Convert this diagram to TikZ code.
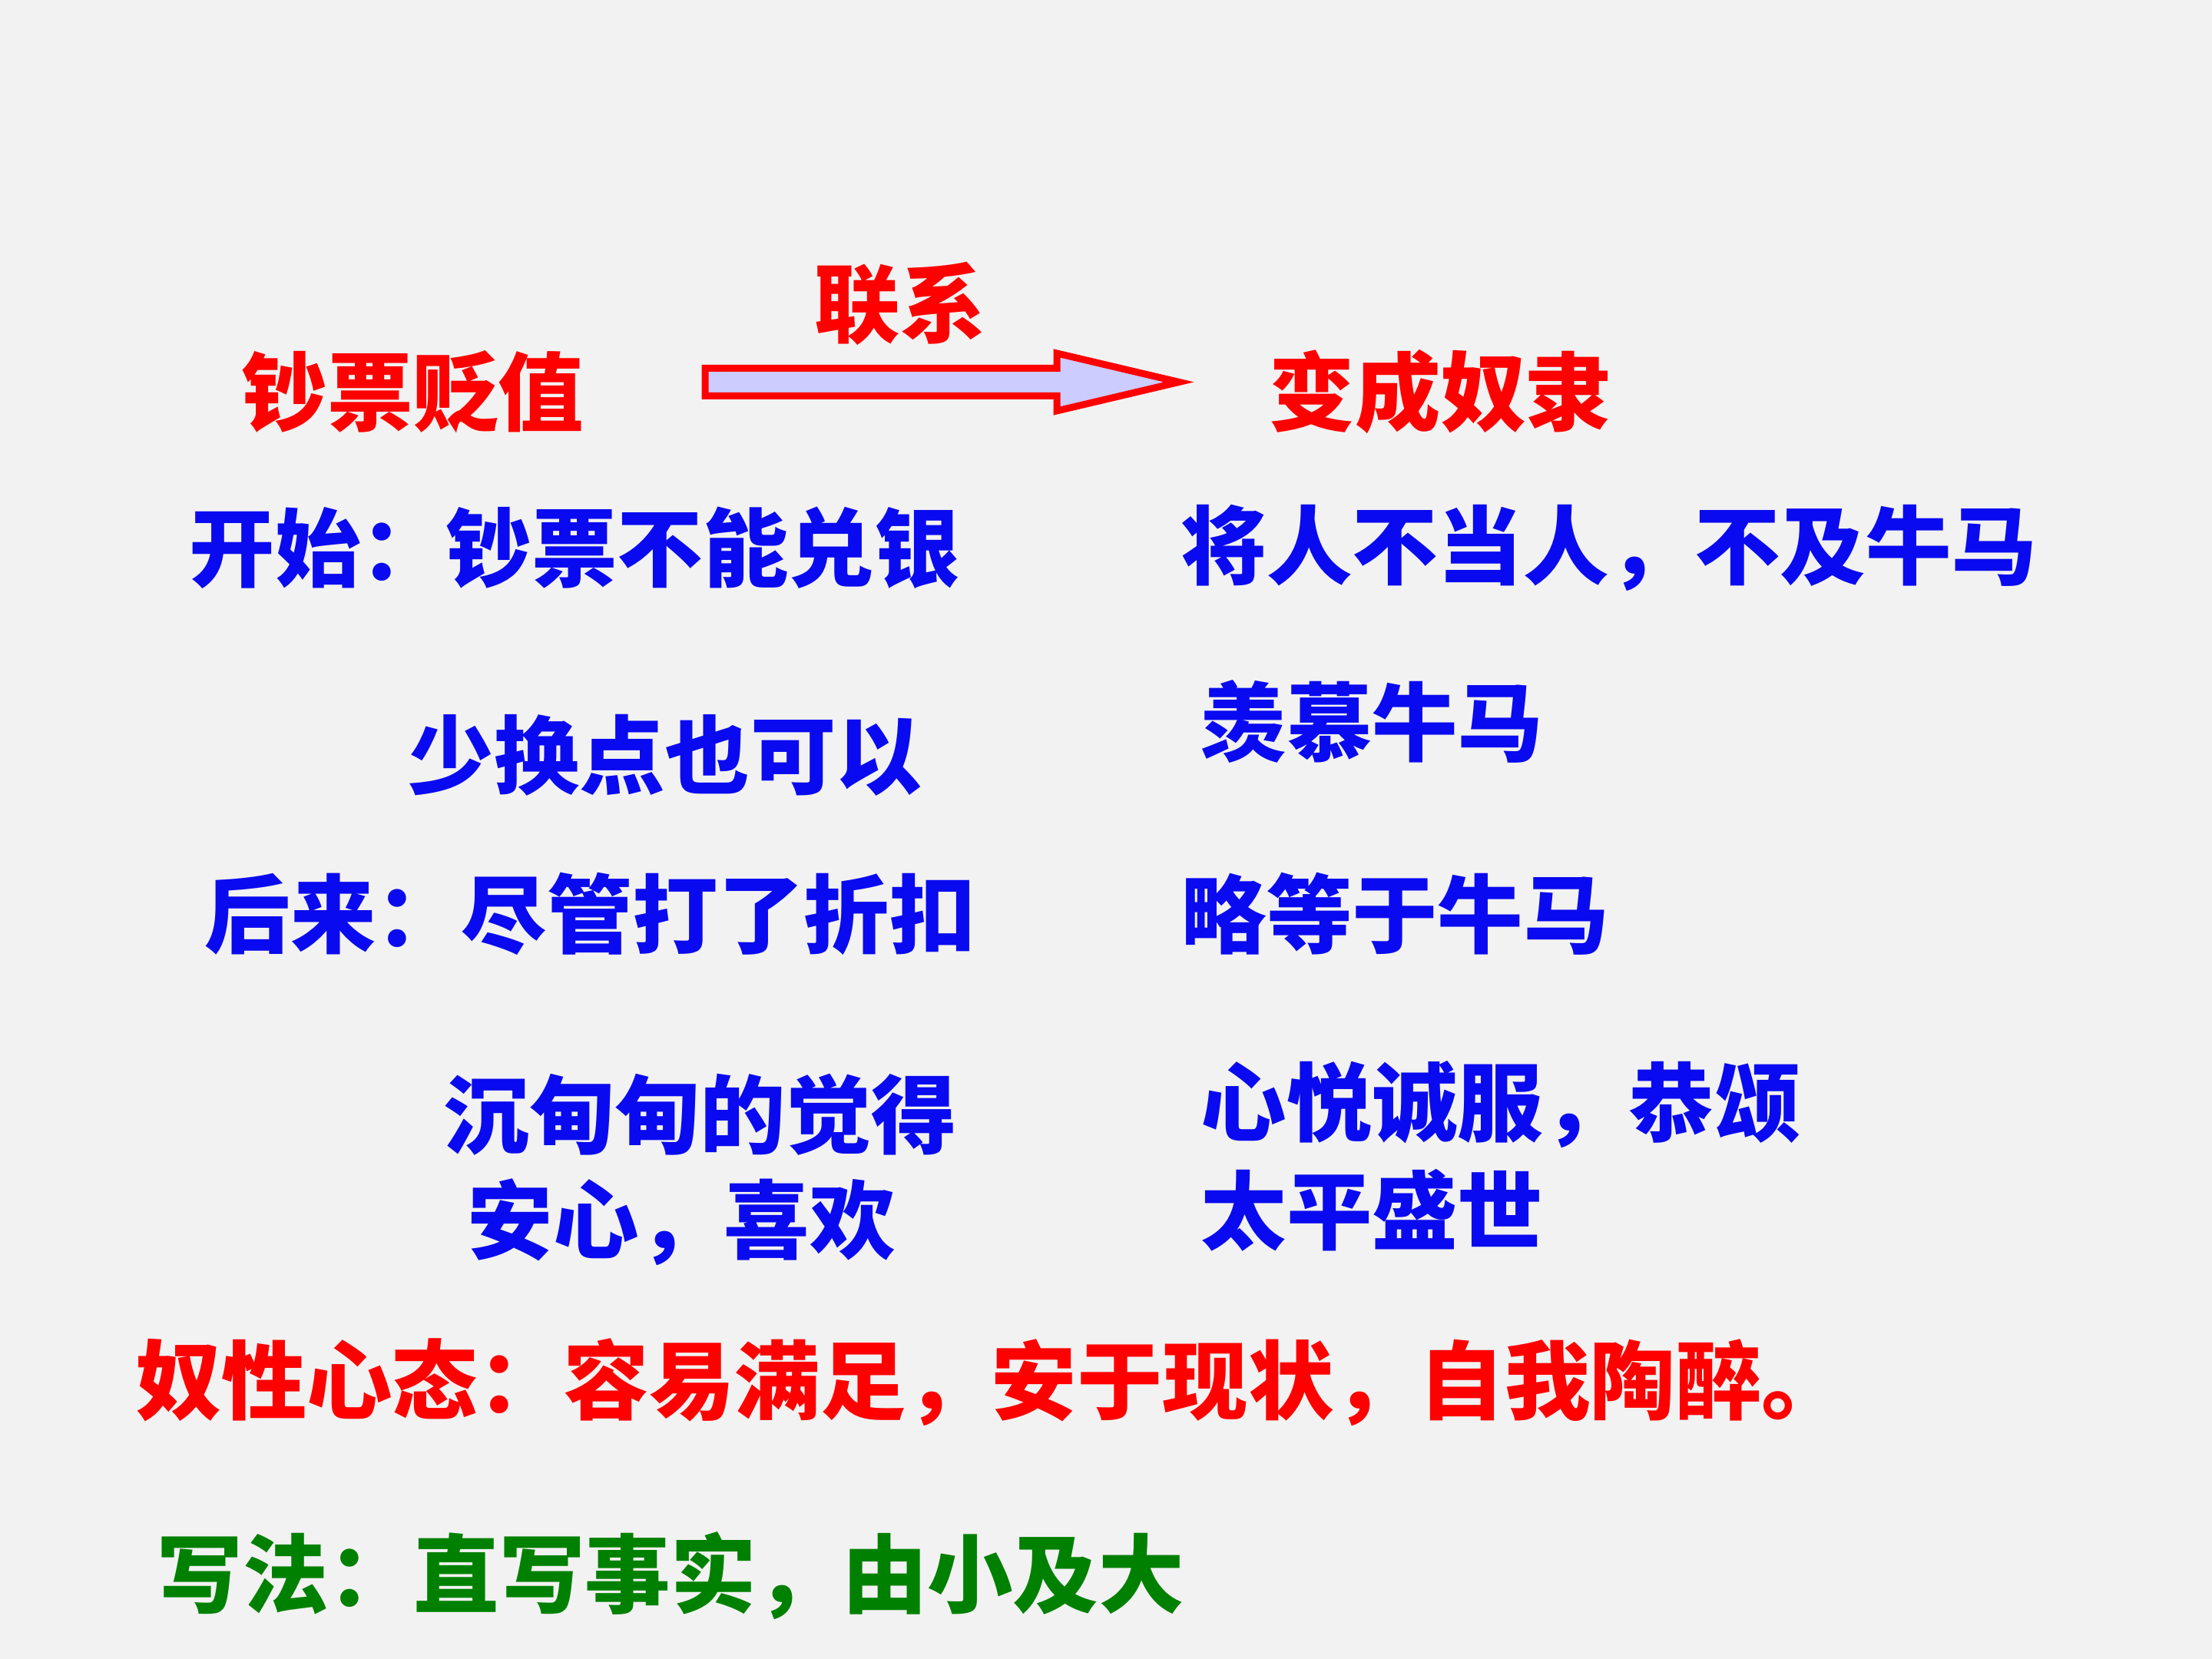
\documentclass[tikz,border=0pt]{standalone}
\usepackage{fontspec}
\newfontfamily\cjk{Noto Sans CJK SC}
\usetikzlibrary{positioning}
\definecolor{paper}{RGB}{242,242,242}
\definecolor{scarlet}{RGB}{255,0,0}
\definecolor{royal}{RGB}{10,10,240}
\definecolor{grass}{RGB}{0,128,0}
\definecolor{lilac}{RGB}{204,204,255}
\tikzset{
  say/.style={text=#1,inner sep=0pt,anchor=west,font=\cjk\bfseries\fontsize{31.7}{38}\selectfont},
  say/.default=royal,
  bigarrow/.style={draw=scarlet,fill=lilac,line width=0.9mm,miter limit=10},
}

\begin{document}
\begin{tikzpicture}
    \useasboundingbox (0,0) rectangle (28.8,21.6);
    \fill[paper] (0,0) rectangle (28.8,21.6);
    % headline: cause -> effect
    \node[say=scarlet] (cause) at (3.14,16.5) {钞票贬值};
    \node[say=scarlet] (effect) at (16.52,16.5) {变成奴隶};
    \coordinate (tail) at (9.18,16.625);
    \coordinate (tip) at (15.35,16.625);
    \draw[bigarrow] (tail) ++(0,0.18) -- (13.76,16.805) -- (13.76,17.00) -- (tip)
      -- (13.76,16.25) -- (13.76,16.445) -- (9.18,16.445) -- cycle;
    \node[say=scarlet,anchor=center] (link) at (11.72,17.65) {联系};
    % left column
    \foreach \t/\x/\y [count=\i] in {
      开始：钞票不能兑银/2.46/14.47,
      少换点也可以/5.31/11.77,
      后来：尽管打了折扣/2.66/9.70,
      沉甸甸的觉得/5.77/7.09,
      安心，喜欢/6.08/5.69}
    {
      \node[say] (l\i) at (\x,\y) {\t};
    }
    % right column
    \foreach \t/\x/\y [count=\i] in {
      将人不当人，不及牛马/15.37/14.47,
      羡慕牛马/15.63/12.20,
      略等于牛马/15.37/9.70,
      心悦诚服，恭颂/15.63/7.22,
      太平盛世/15.63/5.84}
    {
      \node[say] (r\i) at (\x,\y) {\t};
    }
    \node[say=scarlet] (mind) at (1.76,3.60) {奴性心态：容易满足，安于现状，自我陶醉。};
    \node[say=grass] (style) at (2.04,1.08) {写法：直写事实，由小及大};
  \end{tikzpicture}
\end{document}
